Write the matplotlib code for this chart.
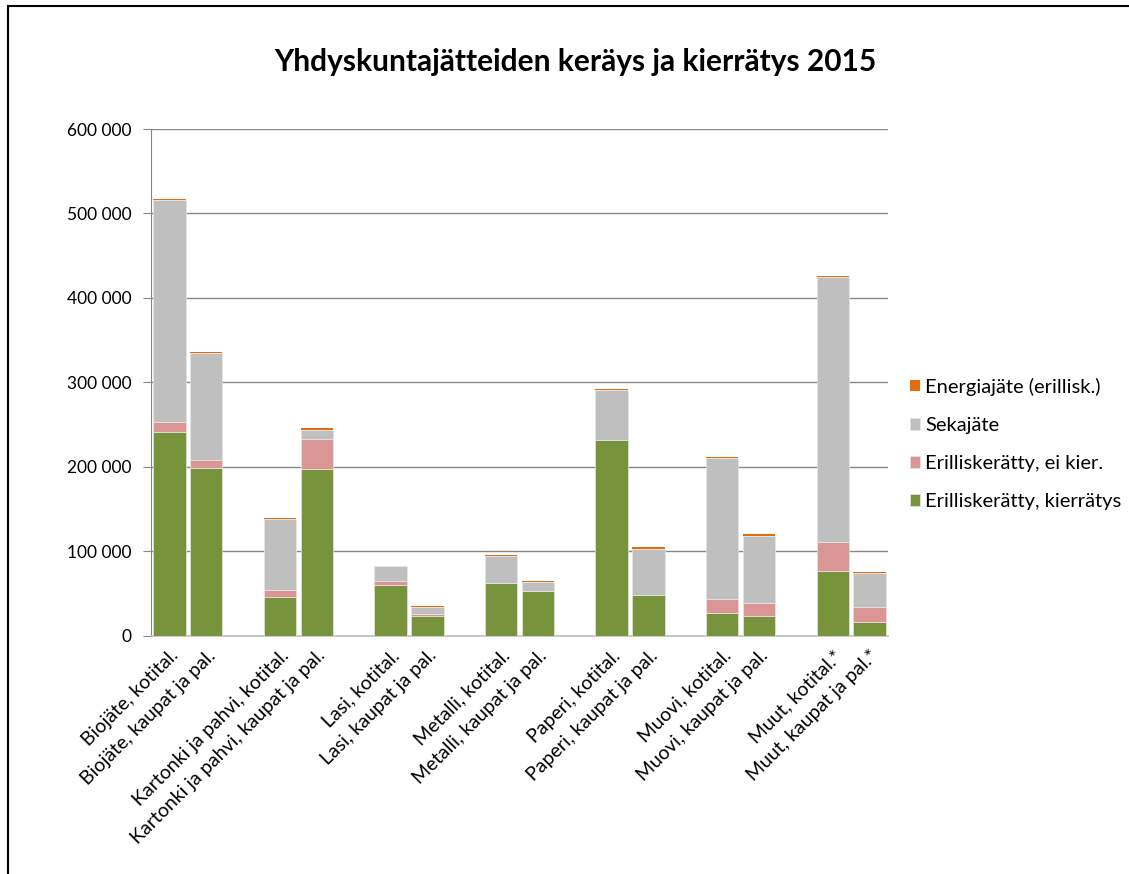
import matplotlib
matplotlib.use("Agg")
import matplotlib.pyplot as plt
from matplotlib.lines import Line2D
from matplotlib.ticker import FuncFormatter
import numpy as np

plt.rcParams['font.family'] = ['Lato', 'DejaVu Sans']

# category labels (pairs: households / shops and services)
labels = ['Biojäte, kotital.', 'Biojäte, kaupat ja pal.',
          'Kartonki ja pahvi, kotital.', 'Kartonki ja pahvi, kaupat ja pal.',
          'Lasi, kotital.', 'Lasi, kaupat ja pal.',
          'Metalli, kotital.', 'Metalli, kaupat ja pal.',
          'Paperi, kotital.', 'Paperi, kaupat ja pal.',
          'Muovi, kotital.', 'Muovi, kaupat ja pal.',
          'Muut, kotital.*', 'Muut, kaupat ja pal.*']

# tonnes
kierratys = [241000, 198000, 46000, 197000, 60000, 23500, 62500, 52500,
             231500, 48500, 26500, 23500, 76500, 16000]
ei_kier = [12500, 10500, 8500, 35500, 5000, 2500, 0, 0,
           0, 0, 16500, 15500, 35000, 17500]
sekajate = [263000, 126000, 83500, 11000, 17000, 8000, 31500, 11500,
            59000, 54000, 167000, 79000, 313500, 40500]
energia = [1200, 1200, 800, 2000, 1000, 1200, 1200, 1200,
           1200, 2000, 1600, 2200, 800, 1600]

series_names = ['Erilliskerätty, kierrätys', 'Erilliskerätty, ei kier.',
                'Sekajäte', 'Energiajäte (erillisk.)']
colors = ['#77933C', '#D99694', '#BFBFBF', '#E46C0A']

# positions: pairs separated by one empty slot
x = np.array([3 * (i // 2) + (i % 2) for i in range(len(labels))])

fig = plt.figure(figsize=(11.29, 8.74), dpi=100)
ax = fig.add_axes([151 / 1129, 1 - 635.7 / 874, (888 - 151) / 1129, (635.7 - 129) / 874])

bottom = np.zeros(len(labels))
handles = []
for vals, name, c in zip([kierratys, ei_kier, sekajate, energia], series_names, colors):
    edge = 'none' if c == '#E46C0A' else '#e6e6e6'
    b = ax.bar(x, vals, width=0.88, bottom=bottom, color=c, edgecolor=edge,
               linewidth=0.5, label=name, zorder=3)
    handles.append(b)
    bottom += np.array(vals)

ax.set_xlim(-0.5, 19.5)
ax.set_ylim(0, 600000)
ax.set_yticks(np.arange(0, 600001, 100000))
ax.yaxis.set_major_formatter(FuncFormatter(lambda v, p: f'{int(v):,}'.replace(',', ' ')))
ax.grid(axis='y', color='#868686', linewidth=1.0, zorder=0)
ax.tick_params(axis='y', length=6, color='#868686', labelsize=12.5, pad=8, labelcolor='#000000')
ax.tick_params(axis='x', length=0, pad=8)
ax.set_xticks(x)
ax.set_xticklabels(labels, rotation=45, ha='right', rotation_mode='anchor', fontsize=14)
for s in ['top', 'right']:
    ax.spines[s].set_visible(False)
ax.spines['left'].set_color('#868686')
ax.spines['bottom'].set_color('#BFBFBF')
ax.spines['bottom'].set_linewidth(1.2)

fig.text(575 / 1129, 1 - 62 / 874, 'Yhdyskuntajätteiden keräys ja kierrätys 2015',
         ha='center', va='center', fontsize=21.5, fontweight='bold')

leg = fig.legend(handles[::-1], series_names[::-1], loc='center left',
                 bbox_to_anchor=(892 / 1129, 1 - 444 / 874), frameon=False,
                 fontsize=14.5, handlelength=0.5, handleheight=0.5,
                 handletextpad=0.25, labelspacing=1.05)

# chart border (left and top edges)
fig.add_artist(Line2D([8 / 1129, 8 / 1129], [0, 1 - 6 / 874], color='black', linewidth=1.5,
                      transform=fig.transFigure))
fig.add_artist(Line2D([8 / 1129, 1], [1 - 6 / 874, 1 - 6 / 874], color='black', linewidth=1.5,
                      transform=fig.transFigure))

fig.savefig('out.png', dpi=100)
